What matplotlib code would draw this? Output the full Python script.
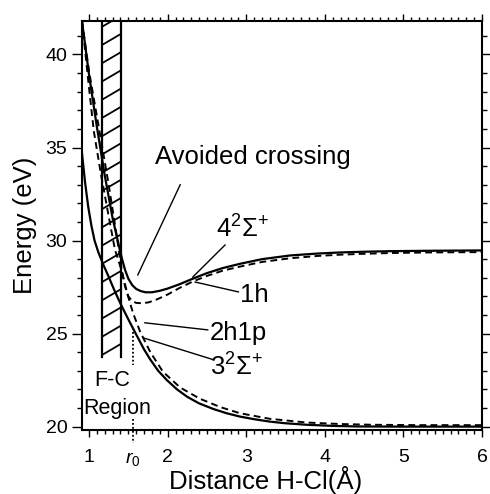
import numpy as np
import matplotlib
matplotlib.use("Agg")
import matplotlib.pyplot as plt
from matplotlib.patches import Rectangle
from matplotlib.ticker import MultipleLocator

plt.rcParams['font.family'] = ['Liberation Sans', 'DejaVu Sans']
plt.rcParams['mathtext.fontset'] = 'custom'
plt.rcParams['mathtext.rm'] = 'Liberation Sans'
plt.rcParams['mathtext.it'] = 'Liberation Sans:italic'

# ---- curves (distance in Angstrom, energy in eV) ----
# adiabatic upper state 4 2Sigma+ (solid)
x_upper = [0.91, 1.00, 1.10, 1.20, 1.30, 1.37, 1.42, 1.46, 1.50, 1.55, 1.60, 1.66, 1.72,
           1.80, 1.90, 2.00, 2.15, 2.32, 2.50, 2.70, 2.92, 3.20, 3.56, 3.90, 4.19, 4.50,
           4.83, 5.30, 6.00]
e_upper = [41.8, 38.9, 36.1, 33.5, 31.2, 29.9, 29.0, 28.4, 27.95, 27.6, 27.4, 27.28, 27.22,
           27.22, 27.3, 27.42, 27.65, 27.95, 28.25, 28.52, 28.75, 29.0, 29.2, 29.3, 29.36,
           29.4, 29.43, 29.45, 29.47]

# adiabatic lower state 3 2Sigma+ (solid)
x_lower = [0.91, 0.95, 0.99, 1.03, 1.07, 1.12, 1.18, 1.25, 1.32, 1.39, 1.46, 1.52, 1.60,
           1.70, 1.78, 1.88, 1.99, 2.12, 2.25, 2.40, 2.58, 2.75, 2.92, 3.10, 3.30, 3.50,
           3.77, 4.10, 4.41, 5.00, 6.00]
e_lower = [34.7, 33.1, 31.8, 30.8, 30.0, 29.35, 28.72, 28.05, 27.35, 26.7, 26.1, 25.6, 24.95,
           24.15, 23.6, 23.0, 22.5, 22.0, 21.6, 21.25, 20.95, 20.72, 20.54, 20.4, 20.27,
           20.18, 20.1, 20.04, 20.01, 20.0, 20.0]

# diabatic 1h (dashed)
x_1h = [0.91, 1.00, 1.06, 1.15, 1.25, 1.33, 1.38, 1.42, 1.46, 1.50, 1.55, 1.60, 1.68,
        1.76, 1.87, 2.00, 2.15, 2.32, 2.50, 2.70, 2.92, 3.20, 3.56, 3.90, 4.19, 4.50,
        4.83, 5.30, 6.00]
e_1h = [41.8, 38.2, 35.9, 33.6, 31.3, 29.5, 28.85, 28.3, 27.5, 27.0, 26.75, 26.65, 26.63,
        26.68, 26.85, 27.1, 27.45, 27.8, 28.1, 28.38, 28.6, 28.85, 29.05, 29.17, 29.24,
        29.29, 29.33, 29.36, 29.38]

# diabatic 2h1p (dashed)
x_2h1p = [0.91, 1.00, 1.14, 1.25, 1.35, 1.42, 1.49, 1.56, 1.65, 1.78, 1.94, 2.16, 2.41,
          2.67, 2.92, 3.30, 3.77, 4.20, 4.60, 5.20, 6.00]
e_2h1p = [41.8, 39.1, 35.7, 33.0, 30.3, 28.3, 27.1, 26.1, 25.1, 24.0, 22.95, 22.1, 21.5,
          21.05, 20.72, 20.42, 20.22, 20.14, 20.1, 20.08, 20.08]

# Franck-Condon region and equilibrium distance
fc_left, fc_right, fc_bottom = 1.165, 1.407, 23.75
r0 = 1.56

x_ticks = [1, 2, 3, 4, 5, 6]
y_ticks = [20, 25, 30, 35, 40]

fig = plt.figure(figsize=(4.9, 4.94), dpi=100)
ax = fig.add_axes([0.1673, 0.1296, 0.8164, 0.8279])
ax.set_xlim(0.91, 6.0)
ax.set_ylim(19.82, 41.8)

ax.plot(x_upper, e_upper, color='black', lw=1.6, zorder=3)
ax.plot(x_lower, e_lower, color='black', lw=1.6, zorder=3)
ax.plot(x_1h, e_1h, color='black', lw=1.4, linestyle=(0, (3.5, 2.2)), zorder=3)
ax.plot(x_2h1p, e_2h1p, color='black', lw=1.4, linestyle=(0, (3.5, 2.2)), zorder=3)

# hatched F-C region: two vertical edges and slanted hatch lines
top = ax.get_ylim()[1]
clip = Rectangle((fc_left, fc_bottom), fc_right - fc_left, top - fc_bottom,
                 fill=False, lw=0, transform=ax.transData)
ax.add_patch(clip)
for xe in (fc_left, fc_right):
    ax.plot([xe, xe], [fc_bottom, top], color='black', lw=1.6, zorder=4)
for y0 in np.arange(fc_bottom + 0.1, top + 0.5, 0.98):
    ln, = ax.plot([fc_left, fc_right], [y0, y0 + 0.6], color='black', lw=1.3, zorder=4)
    ln.set_clip_path(clip)

# r0 dotted marker
ax.plot([r0, r0], [25.3, 23.3], color='black', lw=1.3, linestyle=(0, (1, 1.2)))
ax.plot([r0, r0], [20.4, 19.1], color='black', lw=1.3, linestyle=(0, (1, 1.2)),
        clip_on=False)

ax.text(1.29, 22.5, 'F-C', fontsize=15.5, ha='center', va='center')
ax.text(1.36, 21.0, 'Region', fontsize=15.5, ha='center', va='center')

# labels with leader lines
lab = dict(fontsize=18.5, ha='left', va='center')
ax.text(1.84, 34.5, 'Avoided crossing', **lab)
ax.plot([2.16, 1.62], [33.0, 28.15], color='black', lw=1.0)
ax.text(2.62, 30.6, r'4$^{2}\Sigma^{+}$', **lab)
ax.plot([2.73, 2.32], [29.76, 28.04], color='black', lw=1.0)
ax.text(2.92, 27.1, '1h', **lab)
ax.plot([2.90, 2.35], [27.24, 27.77], color='black', lw=1.0)
ax.text(2.54, 25.05, '2h1p', **lab)
ax.plot([2.51, 1.71], [25.2, 25.58], color='black', lw=1.0)
ax.text(2.54, 23.2, r'3$^{2}\Sigma^{+}$', **lab)
ax.plot([2.58, 1.69], [23.6, 24.77], color='black', lw=1.0)

# axes styling
ax.set_xticks(x_ticks)
ax.set_yticks(y_ticks)
ax.xaxis.set_minor_locator(MultipleLocator(0.1))
ax.yaxis.set_minor_locator(MultipleLocator(1))
ax.tick_params(which='both', direction='out', top=True, right=True, width=1.0,
               labelsize=14, color='black')
ax.tick_params(axis='y', which='major', length=7)
ax.tick_params(axis='y', which='minor', length=3.5)
ax.tick_params(axis='x', which='major', length=5, pad=9)
ax.tick_params(axis='x', which='minor', length=3)
for s in ax.spines.values():
    s.set_linewidth(1.5)

ax.text(r0, -0.072, r'$r_0$', fontsize=14, ha='center', va='center',
        transform=ax.get_xaxis_transform())

ax.set_ylabel('Energy (eV)', fontsize=18.5, labelpad=6)
ax.set_xlabel('Distance H-Cl(Å)', fontsize=18.5)
ax.xaxis.set_label_coords(0.46, -0.088)

fig.savefig('out.png', dpi=100)
